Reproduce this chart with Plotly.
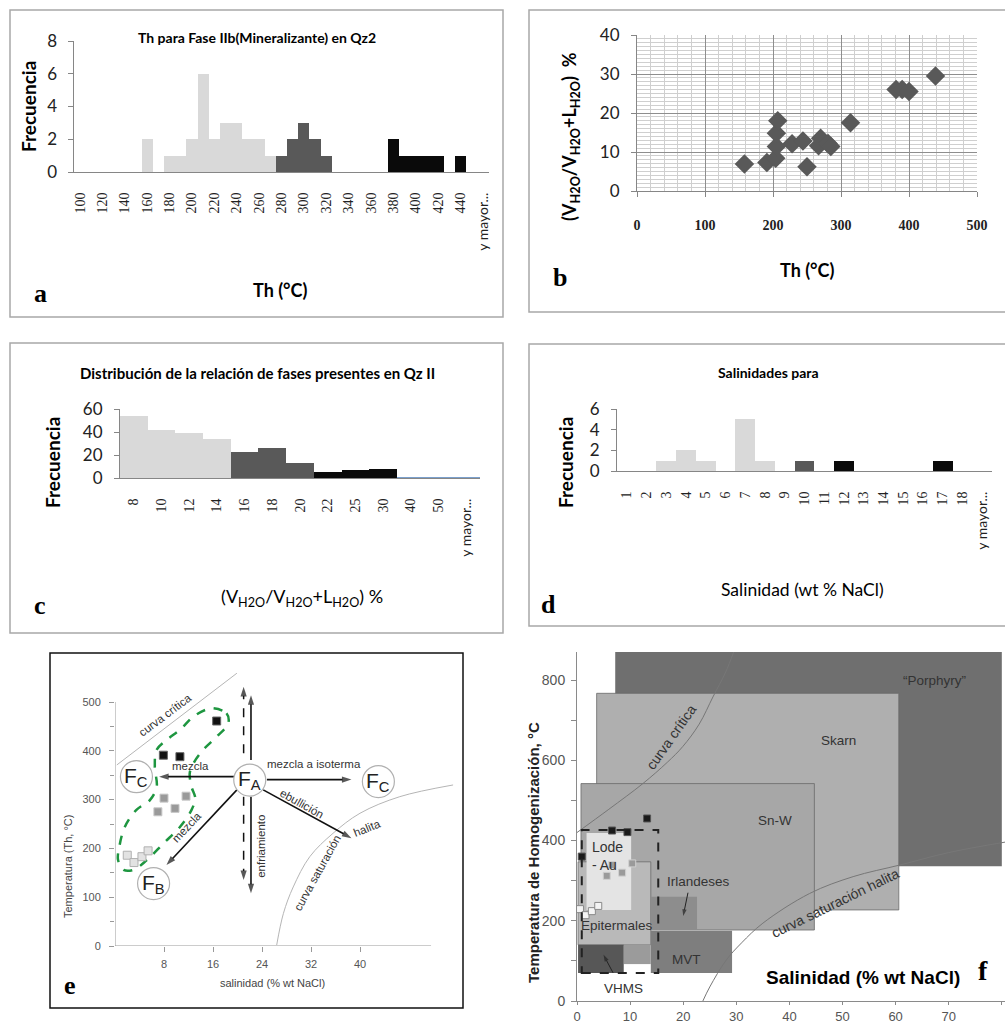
import plotly.graph_objects as go

W, H = 1005, 1023

# ---------------- data ----------------
# (a) Th histogram, Fase IIb (Mineralizante) en Qz2
th_bins = [str(v) for v in range(100, 460, 10)] + ["y mayor..."]
th_light_bins = [160, 180, 190, 200, 210, 220, 230, 240, 250, 260, 270]
th_light_freq = [2, 1, 1, 2, 6, 2, 3, 3, 2, 2, 1]
th_dark_bins = [280, 290, 300, 310, 320]
th_dark_freq = [1, 2, 3, 2, 1]
th_black_bins = [380, 390, 400, 410, 420, 440]
th_black_freq = [2, 1, 1, 1, 1, 1]

# (b) Th vs vapour ratio
b_th = [158, 191, 204, 205, 205, 207, 228, 244, 250, 267, 270, 281, 285, 314, 381, 390, 400, 439]
b_ratio = [6.9, 7.3, 8.4, 11.4, 14.8, 18.0, 12.1, 12.8, 6.2, 11.6, 13.5, 12.2, 11.4, 17.5, 26.0, 26.0, 25.5, 29.5]

# (c) phase ratio histogram
vr_bins = ["8", "10", "12", "14", "16", "18", "20", "22", "25", "30", "40", "50", "y mayor..."]
vr_freq = [54, 42, 39, 34, 23, 26, 13, 5, 7, 8, 0, 0, 0]
vr_group = ["light"] * 4 + ["dark"] * 3 + ["black"] * 3 + ["none"] * 3

# (d) salinity histogram
sal_bins = [str(v) for v in range(1, 19)] + ["y mayor..."]
sal_freq = [0, 0, 1, 2, 1, 0, 5, 1, 0, 1, 0, 1, 0, 0, 0, 0, 1, 0, 0]
sal_group = ["light"] * 9 + ["dark"] * 2 + ["black"] * 8

# (e) salinity vs Th diagram
e_black_sal = [16.6, 7.9, 10.6]
e_black_th = [461, 391, 388]
e_gray_sal = [8.0, 11.6, 7.0, 9.8]
e_gray_th = [303, 307, 275, 282]
e_light_sal = [2.0, 3.1, 4.4, 5.4]
e_light_th = [186, 171, 183, 195]
e_env_sal = [16.1, 18.2, 18.5, 16.6, 14.4, 12.8, 12.2, 12.5, 13.1, 12.5, 10.6, 7.9, 5.2, 3.0, 1.4, 0.5,
             0.7, 1.6, 3.5, 5.7, 6.8, 6.5, 6.8, 8.4, 10.6, 12.8, 15.0, 16.1]
e_env_th = [487, 477, 456, 429, 402, 374, 354, 326, 303, 279, 244, 210, 176, 156, 156, 176,
            203, 244, 279, 299, 326, 367, 402, 422, 443, 470, 485, 487]
e_crit_sal = [0.3, 19.9]
e_crit_th = [371, 559]
e_hal_sal = [26.4, 27.5, 29.1, 31.8, 35.6, 40.0, 46.5, 55.2]
e_hal_th = [2, 67, 121, 183, 231, 272, 306, 330]
e_fluids = ["F<sub>C</sub>", "F<sub>A</sub>", "F<sub>C</sub>", "F<sub>B</sub>"]
e_fluid_sal = [3.5, 22.0, 43.0, 6.3]
e_fluid_th = [347, 340, 337, 128]
# arrows (tail sal, tail th, head sal, head th)
e_arrows = [
    (19.6, 347, 7.2, 347),     # mezcla -> Fc
    (24.8, 341, 38.6, 341),    # mezcla a isoterma -> Fc
    (19.9, 320, 8.4, 166),     # mezcla -> Fb
    (24.2, 320, 38.6, 221),    # ebullicion
    (22.2, 381, 22.2, 514),    # up
    (22.2, 306, 22.2, 108),    # enfriamiento
]
e_dashed = [
    (21.0, 395, 21.0, 531),
    (21.0, 306, 21.0, 135),
]

# (f) Th vs salinity fields
f_reg_names = ["“Porphyry”", "Skarn", "Sn-W", "Epitermales", "Lode<br>- Au", "Irlandeses", "MVT", "", "VHMS"]
f_reg_sal_min = [7.2, 3.7, 0.75, 0.2, 1.8, 13.9, 13.9, 8.8, 0.2]
f_reg_sal_max = [80.0, 60.6, 44.7, 13.9, 10.2, 22.6, 29.2, 13.9, 8.8]
f_reg_th_min = [336, 227, 177, 140, 227, 177, 70, 92, 70]
f_reg_th_max = [900, 767, 542, 347, 419, 260, 175, 140, 140]
f_reg_colors = ["#6f6f6f", "#afafaf", "#a7a7a7", "#b9b9b9", "#e4e4e4", "#8d8d8d", "#7e7e7e", "#9b9b9b", "#575757"]
f_study_sal = [0.9, 15.3]
f_study_th = [70, 426]
f_crit_sal = [0.0, 6.0, 12.4, 17.0, 19.9, 23.0, 25.6, 28.0, 29.5]
f_crit_th = [420, 478, 542, 595, 634, 690, 758, 820, 870]
f_hal_sal = [23.7, 25.0, 28.1, 31.0, 35.0, 43.8, 52.0, 60.8, 70.0, 80.6]
f_hal_th = [0, 35, 102, 145, 194, 268, 310, 339, 370, 396]
f_black_sal = [0.9, 6.6, 9.5, 13.2]
f_black_th = [360, 425, 421, 455]
f_gray_sal = [10.4, 6.6, 5.6, 8.5]
f_gray_th = [343, 339, 312, 320]
f_white_sal = [0.56, 1.6, 2.8, 4.0]
f_white_th = [229, 214, 224, 237]
f_pointers = [(20.9, 270, 20.0, 212), (6.8, 70, 5.0, 115)]

# ---------------- helpers ----------------
def fx(p):
    return p / W


def fy(p):
    return 1 - p / H


LIGHT, DARK, BLACK = "#d9d9d9", "#595959", "#0a0a0a"
GROUP_COL = {"light": LIGHT, "dark": DARK, "black": BLACK}
SANS = "Lato"
SERIF = "Liberation Serif"
ARIAL = "Liberation Sans"

fig = go.Figure()
ann = []
shapes = []


def arrow_trace(x0, y0, x1, y1, xa, ya, dash="solid", width=1.6, head=10, color="#111"):
    return go.Scatter(x=[x0, x1], y=[y0, y1], mode="lines+markers",
                      line=dict(color=color, width=width, dash=dash),
                      marker=dict(symbol=["circle", "arrow"], size=[0, head], angleref="previous",
                                  color=color, line=dict(width=0)),
                      xaxis=xa, yaxis=ya, hoverinfo="skip")


# ---------------- panel a ----------------
for bins, freq, col in [(th_light_bins, th_light_freq, LIGHT),
                        (th_dark_bins, th_dark_freq, DARK),
                        (th_black_bins, th_black_freq, BLACK)]:
    fig.add_trace(go.Bar(x=[str(b) for b in bins], y=freq, width=1,
                         marker=dict(color=col, line=dict(width=0)),
                         xaxis="x", yaxis="y", hoverinfo="skip"))

# ---------------- panel b ----------------
fig.add_trace(go.Scatter(x=b_th, y=b_ratio, mode="markers",
                         marker=dict(symbol="diamond", size=15, color="#595959"),
                         xaxis="x2", yaxis="y2", hoverinfo="skip"))

# ---------------- panel c ----------------
for g in ["light", "dark", "black"]:
    idx = [i for i, gg in enumerate(vr_group) if gg == g]
    fig.add_trace(go.Bar(x=idx, y=[vr_freq[i] for i in idx], width=1,
                         marker=dict(color=GROUP_COL[g], line=dict(width=0)),
                         xaxis="x3", yaxis="y3", hoverinfo="skip"))
zero_idx = [i for i, gg in enumerate(vr_group) if gg == "none"]
fig.add_trace(go.Scatter(x=[zero_idx[0] - 0.5, zero_idx[-1] + 0.5], y=[0, 0], mode="lines",
                         line=dict(color="#4f81bd", width=1.5), xaxis="x3", yaxis="y3",
                         hoverinfo="skip"))

# ---------------- panel d ----------------
for g in ["light", "dark", "black"]:
    idx = [i for i, gg in enumerate(sal_group) if gg == g and sal_freq[i] > 0]
    fig.add_trace(go.Bar(x=idx, y=[sal_freq[i] for i in idx], width=1,
                         marker=dict(color=GROUP_COL[g], line=dict(width=0)),
                         xaxis="x4", yaxis="y4", hoverinfo="skip"))

# ---------------- panel e ----------------
fig.add_trace(go.Scatter(x=e_crit_sal, y=e_crit_th, mode="lines", line=dict(color="#b5b5b5", width=1),
                         xaxis="x5", yaxis="y5", hoverinfo="skip"))
fig.add_trace(go.Scatter(x=e_hal_sal, y=e_hal_th, mode="lines", line=dict(color="#b5b5b5", width=1, shape="spline"),
                         xaxis="x5", yaxis="y5", hoverinfo="skip"))
fig.add_trace(go.Scatter(x=e_env_sal, y=e_env_th, mode="lines",
                         line=dict(color="#1e9640", width=2.5, dash="dash", shape="spline", smoothing=1.0),
                         xaxis="x5", yaxis="y5", hoverinfo="skip"))
for (x0, y0, x1, y1) in e_arrows:
    fig.add_trace(arrow_trace(x0, y0, x1, y1, "x5", "y5"))
for (x0, y0, x1, y1) in e_dashed:
    fig.add_trace(arrow_trace(x0, y0, x1, y1, "x5", "y5", dash="dash", width=1.5))
fig.add_trace(go.Scatter(x=e_black_sal, y=e_black_th, mode="markers",
                         marker=dict(symbol="square", size=8, color="#111", line=dict(color="#666", width=1)),
                         xaxis="x5", yaxis="y5", hoverinfo="skip"))
fig.add_trace(go.Scatter(x=e_gray_sal, y=e_gray_th, mode="markers",
                         marker=dict(symbol="square", size=8, color="#9a9a9a", line=dict(color="#c8c8c8", width=1)),
                         xaxis="x5", yaxis="y5", hoverinfo="skip"))
fig.add_trace(go.Scatter(x=e_light_sal, y=e_light_th, mode="markers",
                         marker=dict(symbol="square", size=8, color="#e2e2e2", line=dict(color="#b0b0b0", width=1)),
                         xaxis="x5", yaxis="y5", hoverinfo="skip"))

# ---------------- panel f ----------------
for i in range(len(f_reg_names)):
    shapes.append(dict(type="rect", xref="x6", yref="y6", x0=f_reg_sal_min[i], x1=f_reg_sal_max[i],
                       y0=f_reg_th_min[i], y1=f_reg_th_max[i], fillcolor=f_reg_colors[i],
                       line=dict(color="#6a6a6a" if i in (1, 2, 3) else "rgba(0,0,0,0)", width=0.8),
                       layer="below"))
shapes.append(dict(type="rect", xref="x6", yref="y6", x0=f_study_sal[0], x1=f_study_sal[1],
                   y0=f_study_th[0], y1=f_study_th[1], line=dict(color="#222", width=2, dash="dash"),
                   fillcolor="rgba(0,0,0,0)", layer="above"))
fig.add_trace(go.Scatter(x=f_crit_sal, y=f_crit_th, mode="lines", line=dict(color="#777", width=1, shape="spline"),
                         xaxis="x6", yaxis="y6", hoverinfo="skip"))
fig.add_trace(go.Scatter(x=f_hal_sal, y=f_hal_th, mode="lines", line=dict(color="#777", width=1, shape="spline"),
                         xaxis="x6", yaxis="y6", hoverinfo="skip"))
for (x0, y0, x1, y1) in f_pointers:
    fig.add_trace(arrow_trace(x0, y0, x1, y1, "x6", "y6", width=1, head=7, color="#222"))
fig.add_trace(go.Scatter(x=f_black_sal, y=f_black_th, mode="markers",
                         marker=dict(symbol="square", size=7, color="#1a1a1a", line=dict(color="#555", width=1)),
                         xaxis="x6", yaxis="y6", hoverinfo="skip"))
fig.add_trace(go.Scatter(x=f_gray_sal, y=f_gray_th, mode="markers",
                         marker=dict(symbol="square", size=7, color="#9a9a9a", line=dict(color="#d0d0d0", width=1)),
                         xaxis="x6", yaxis="y6", hoverinfo="skip"))
fig.add_trace(go.Scatter(x=f_white_sal, y=f_white_th, mode="markers",
                         marker=dict(symbol="square", size=7, color="#f4f4f4", line=dict(color="#8a8a8a", width=1)),
                         xaxis="x6", yaxis="y6", hoverinfo="skip"))

# ---------------- frames ----------------
for (x0, y0, x1, y1, col, w) in [(10, 10, 503, 317, "#a8a8a8", 1.5), (529, 10, 1012, 312, "#a8a8a8", 1.5),
                                 (10, 343, 503, 633, "#a8a8a8", 1.5), (529, 344, 1012, 626, "#a8a8a8", 1.5),
                                 (50, 653, 463, 1008, "#111", 1.5)]:
    shapes.append(dict(type="rect", xref="paper", yref="paper", x0=fx(x0), x1=fx(x1), y0=fy(y1), y1=fy(y0),
                       line=dict(color=col, width=w), fillcolor="rgba(0,0,0,0)", layer="above"))

# e axis lines
shapes.append(dict(type="line", xref="x5", yref="y5", x0=0, x1=51.6, y0=0, y1=0, line=dict(color="#999", width=1)))
shapes.append(dict(type="line", xref="x5", yref="y5", x0=0, x1=0, y0=0, y1=500, line=dict(color="#999", width=1)))

# e circles
for name, sx, sy in zip(e_fluids, e_fluid_sal, e_fluid_th):
    shapes.append(dict(type="circle", xref="x5", yref="y5", xsizemode="pixel", ysizemode="pixel",
                       xanchor=sx, yanchor=sy, x0=-16, x1=16, y0=-16, y1=16, fillcolor="white",
                       line=dict(color="#b0b0b0", width=1.2), layer="above"))
    ann.append(dict(x=sx, y=sy, xref="x5", yref="y5", text=name, showarrow=False,
                    font=dict(family=ARIAL, size=21, color="#222"), xanchor="center", yanchor="middle"))

# e text labels
for txt, sx, sy, ang in [("curva crítica", 8.2, 473, -37), ("mezcla", 12.4, 369, 0),
                         ("mezcla a isoterma", 32.5, 373, 0), ("mezcla", 11.7, 244, -47),
                         ("ebullición", 30.6, 292, 29), ("enfriamiento", 23.9, 204, -90),
                         ("curva saturación", 33.0, 150, -61), ("halita", 41.2, 242, -22)]:
    ann.append(dict(x=sx, y=sy, xref="x5", yref="y5", text=txt, showarrow=False, textangle=ang,
                    font=dict(family=ARIAL, size=11.5, color="#333"), xanchor="center", yanchor="middle"))

# f text labels
for txt, sx, sy in [("“Porphyry”", 67.4, 800), ("Skarn", 49.2, 649), ("Sn-W", 37.2, 451),
                    ("Irlandeses", 22.8, 297), ("MVT", 20.7, 104), ("VHMS", 8.7, 32),
                    ("Epitermales", 7.6, 187)]:
    ann.append(dict(x=sx, y=sy, xref="x6", yref="y6", text=txt, showarrow=False,
                    font=dict(family=ARIAL, size=13.5, color="#333"), xanchor="center", yanchor="middle"))
ann.append(dict(x=2.4, y=362, xref="x6", yref="y6", text="Lode<br>- Au", showarrow=False, align="left",
                font=dict(family=ARIAL, size=14, color="#333"), xanchor="left", yanchor="middle"))
ann.append(dict(x=17.7, y=659, xref="x6", yref="y6", text="curva crítica", showarrow=False, textangle=-55,
                font=dict(family=ARIAL, size=14, color="#333"), xanchor="center", yanchor="middle"))
ann.append(dict(x=48.6, y=245, xref="x6", yref="y6", text="curva saturación halita", showarrow=False,
                textangle=-26, font=dict(family=ARIAL, size=14, color="#333"), xanchor="center", yanchor="middle"))


# paper-level texts
def ptxt(text, x, y, size, family=SANS, bold=False, angle=0, color="#000"):
    ann.append(dict(x=fx(x), y=fy(y), xref="paper", yref="paper", text=text, showarrow=False,
                    textangle=angle, xanchor="center", yanchor="middle",
                    font=dict(family=family, size=size, color=color, weight="bold" if bold else "normal")))


VH = "(V<sub>H2O</sub>/V<sub>H2O</sub>+L<sub>H2O</sub>)"
ptxt("Th para Fase IIb(Mineralizante) en Qz2", 257, 38, 14, bold=True)
ptxt("Frecuencia", 28, 107, 19, bold=True, angle=-90)
ptxt("Th (°C)", 280, 290, 18, bold=True)
ptxt("a", 40, 294, 26, family=SERIF, bold=True)

ptxt(VH + "  %", 570, 137, 18, bold=True, angle=-90)
ptxt("Th (°C)", 807, 270, 18, bold=True)
ptxt("b", 560, 277, 26, family=SERIF, bold=True)

ptxt("Distribución de la relación de fases presentes en Qz II", 257, 373, 15, bold=True)
ptxt("Frecuencia", 52, 463, 19, bold=True, angle=-90)
ptxt(VH + " %", 302, 597, 18)
ptxt("c", 40, 605, 26, family=SERIF, bold=True)

ptxt("Salinidades para", 768, 372, 14, bold=True)
ptxt("Frecuencia", 565, 463, 19, bold=True, angle=-90)
ptxt("Salinidad (wt % NaCl)", 802, 589, 17.5)
ptxt("d", 548, 604, 26, family=SERIF, bold=True)

ptxt("Temperatura (Th, °C)", 68, 867, 11, family=ARIAL, angle=-90, color="#444")
ptxt("salinidad (% wt NaCl)", 272, 983, 11, family=ARIAL, color="#444")
ptxt("e", 70, 985, 26, family=SERIF, bold=True)

ptxt("Temperatura de Homogenización, °C", 533, 853, 15, family=ARIAL, bold=True, angle=-90, color="#222")
ptxt("Salinidad (% wt NaCl)", 863, 977, 19, family=ARIAL, bold=True)
ptxt("f", 983, 970, 28, family=SERIF, bold=True)


# ---------------- axes ----------------
def ytext(lbl):
    return '<span style="font-family:Lato">' + lbl + '</span>' if lbl.startswith("y") else lbl


excel_y = dict(showline=True, linecolor="#868686", linewidth=1, ticks="outside", ticklen=5, tickcolor="#868686",
               showgrid=False, zeroline=False, tickfont=dict(family=SANS, size=17, color="#222"),
               ticklabelstandoff=8, automargin=False)
excel_x = dict(showline=True, linecolor="#868686", linewidth=1, ticks="", showgrid=False, zeroline=False,
               tickangle=-90, tickfont=dict(family=SERIF, size=14, color="#222"), ticklabelstandoff=14,
               automargin=False)

layout = dict(
    width=W, height=H, margin=dict(l=0, r=0, t=0, b=0, pad=0, autoexpand=False), autosize=False,
    paper_bgcolor="white", plot_bgcolor="white",
    showlegend=False, barmode="overlay", bargap=0, font=dict(family=SANS, color="#000"),
    xaxis=dict(excel_x, domain=[fx(74.4), fx(488.6)], anchor="y", type="category", categoryorder="array",
               categoryarray=th_bins, range=[-0.5, len(th_bins) - 0.5], tickmode="array",
               tickvals=th_bins[::2], ticktext=[ytext(t) for t in th_bins[::2]]),
    yaxis=dict(excel_y, domain=[fy(172), fy(41)], anchor="x", range=[0, 8], dtick=2),
    xaxis2=dict(domain=[fx(637), fx(977)], anchor="y2", range=[0, 500], dtick=100, showgrid=True,
                gridcolor="#8e8e8e", gridwidth=1, minor=dict(dtick=20, showgrid=True, gridcolor="#cfcfcf", gridwidth=1),
                showline=True, linecolor="#868686", ticks="outside", ticklen=5, tickcolor="#868686",
                zeroline=False, tickfont=dict(family=SERIF, size=14, weight="bold", color="#222"),
                ticklabelstandoff=16, automargin=False),
    yaxis2=dict(domain=[fy(191), fy(35)], anchor="x2", range=[0, 40], dtick=10, showgrid=True,
                gridcolor="#8e8e8e", gridwidth=1, minor=dict(dtick=1, showgrid=True, gridcolor="#cfcfcf", gridwidth=1),
                showline=True, linecolor="#868686", ticks="outside", ticklen=5, tickcolor="#868686",
                zeroline=False, tickfont=dict(family=SANS, size=17, color="#222"), ticklabelstandoff=8,
                automargin=False),
    xaxis3=dict(excel_x, domain=[fx(120), fx(480)], anchor="y3", range=[-0.5, len(vr_bins) - 0.5],
                tickmode="array", tickvals=list(range(len(vr_bins))), ticktext=[ytext(t) for t in vr_bins]),
    yaxis3=dict(excel_y, domain=[fy(478), fy(409)], anchor="x3", range=[0, 60], dtick=20),
    xaxis4=dict(excel_x, domain=[fx(617), fx(992)], anchor="y4", range=[-0.5, len(sal_bins) - 0.5],
                tickmode="array", tickvals=list(range(len(sal_bins))), ticktext=[ytext(t) for t in sal_bins]),
    yaxis4=dict(excel_y, domain=[fy(471), fy(409)], anchor="x4", range=[0, 6], dtick=2),
    xaxis5=dict(domain=[fx(115), fx(115 + 56.5 * 6.125)], anchor="y5", range=[0, 56.5], tickmode="array",
                tickvals=[8, 16, 24, 32, 40], showline=False, ticks="outside", ticklen=5, tickcolor="#999",
                showgrid=False, zeroline=False, tickfont=dict(family=ARIAL, size=11, color="#555"),
                ticklabelstandoff=3, automargin=False),
    yaxis5=dict(domain=[fy(946), fy(946 - 575 * 0.488)], anchor="x5", range=[0, 575], tickmode="array",
                tickvals=[0, 100, 200, 300, 400, 500], showline=False, ticks="outside", ticklen=5,
                tickcolor="#999", minor=dict(tickvals=[50, 150, 250, 350, 450], ticks="outside", ticklen=4,
                                             tickcolor="#999"),
                showgrid=False, zeroline=False, tickfont=dict(family=ARIAL, size=11, color="#555"),
                ticklabelstandoff=6, automargin=False),
    xaxis6=dict(domain=[fx(577), 1.0], anchor="y6", range=[0, 80.6], dtick=10, showline=True, linecolor="#8a8a8a",
                ticks="outside", ticklen=3, tickcolor="#8a8a8a", showgrid=False, zeroline=False,
                tickfont=dict(family=ARIAL, size=13, color="#555"), ticklabelstandoff=0, automargin=False),
    yaxis6=dict(domain=[fy(1001), fy(652)], anchor="x6", range=[0, 870], tickmode="array",
                tickvals=[0, 200, 400, 600, 800], showline=True, linecolor="#8a8a8a", ticks="outside", ticklen=5,
                tickcolor="#8a8a8a", minor=dict(tickvals=[100, 300, 500, 700], ticks="outside", ticklen=5,
                                                tickcolor="#8a8a8a"),
                showgrid=False, zeroline=False, tickfont=dict(family=ARIAL, size=14, color="#555"),
                ticklabelstandoff=3, automargin=False),
    shapes=shapes, annotations=ann,
)
fig.update_layout(layout)
fig.write_html("out.html", config={"displayModeBar": False, "staticPlot": True},
               post_script="document.body.style.margin='0px';document.body.style.padding='0px';"
                           "document.documentElement.style.overflow='hidden';")
